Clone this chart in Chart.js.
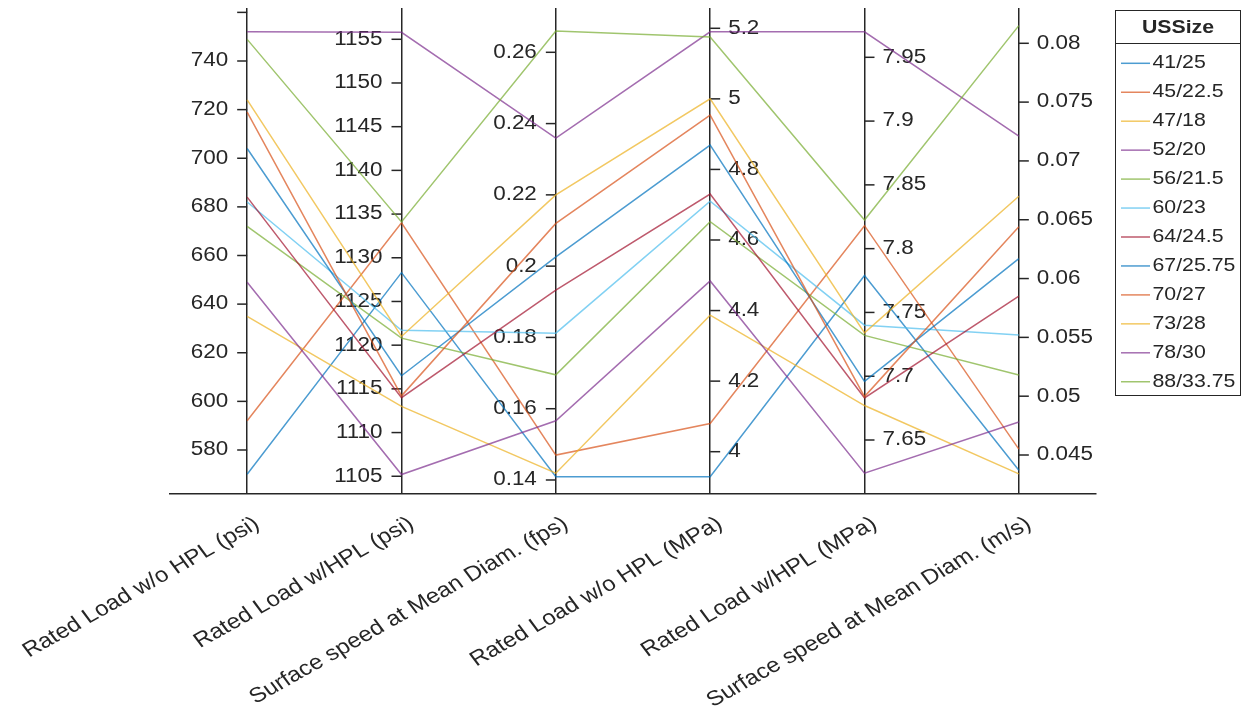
<!DOCTYPE html>
<html>
<head>
<meta charset="utf-8">
<script src="https://cdn.jsdelivr.net/npm/chart.js@4.4.1/dist/chart.umd.min.js"></script>
<style>
  html, body { margin: 0; padding: 0; background: #fff; }
  #wrap { width: 1248px; height: 719px; }
</style>
</head>
<body>
<div id="wrap"><canvas id="parallelChart"></canvas></div>
<script>
// coordinates (one vertical axis each)
const coordinates = [
    "Rated Load w/o HPL (psi)",
    "Rated Load w/HPL (psi)",
    "Surface speed at Mean Diam. (fps)",
    "Rated Load w/o HPL (MPa)",
    "Rated Load w/HPL (MPa)",
    "Surface speed at Mean Diam. (m/s)"
];

// groups (USSize)
const usSizes = ["41/25", "45/22.5", "47/18", "52/20", "56/21.5", "60/23",
                 "64/24.5", "67/25.75", "70/27", "73/28", "78/30", "88/33.75"];

// values per coordinate, same order as usSizes
const loadPsi    = [570, 592, 635, 649, 672, 682, 684, 704, 719, 724, 752, 748.9];
const loadHplPsi = [1128.3, 1134, 1113, 1105.2, 1120.8, 1121.7, 1114, 1116.5, 1114.2, 1121, 1155.8, 1134.1];
const speedFps   = [0.1409, 0.147, 0.1419, 0.1566, 0.1695, 0.1812, 0.1933, 0.2026, 0.212, 0.22, 0.2359, 0.266];
const loadMpa    = [3.929, 4.08, 4.387, 4.484, 4.652, 4.71, 4.73, 4.869, 4.954, 5.0, 5.19, 5.175];
const loadHplMpa = [7.779, 7.818, 7.677, 7.624, 7.732, 7.74, 7.683, 7.696, 7.684, 7.734, 7.970, 7.8225];
const speedMs    = [0.0437, 0.0455, 0.0434, 0.0478, 0.0518, 0.0552, 0.0585, 0.0617, 0.0644, 0.067, 0.0721, 0.0815];

// axis limits for each coordinate
const axisMin = [561.9, 1102.97, 0.13607, 3.8801, 7.60767, 0.041685];
const axisMax = [761.8, 1158.58, 0.27243, 5.2575, 7.98865, 0.0830];

// tick values and labels for each coordinate
const tickValues = [
    [580, 600, 620, 640, 660, 680, 700, 720, 740, 760],
    [1105, 1110, 1115, 1120, 1125, 1130, 1135, 1140, 1145, 1150, 1155],
    [0.14, 0.16, 0.18, 0.2, 0.22, 0.24, 0.26],
    [4, 4.2, 4.4, 4.6, 4.8, 5, 5.2],
    [7.65, 7.7, 7.75, 7.8, 7.85, 7.9, 7.95],
    [0.045, 0.05, 0.055, 0.06, 0.065, 0.07, 0.075, 0.08]
];
const tickLabels = [
    ["580", "600", "620", "640", "660", "680", "700", "720", "740", ""],
    ["1105", "1110", "1115", "1120", "1125", "1130", "1135", "1140", "1145", "1150", "1155"],
    ["0.14", "0.16", "0.18", "0.2", "0.22", "0.24", "0.26"],
    ["4", "4.2", "4.4", "4.6", "4.8", "5", "5.2"],
    ["7.65", "7.7", "7.75", "7.8", "7.85", "7.9", "7.95"],
    ["0.045", "0.05", "0.055", "0.06", "0.065", "0.07", "0.075", "0.08"]
];

const lineColors = [
    "rgba(0,114,189,0.7)", "rgba(217,83,25,0.7)", "rgba(237,177,32,0.7)",
    "rgba(126,47,142,0.7)", "rgba(119,172,48,0.7)", "rgba(77,190,238,0.7)",
    "rgba(162,20,47,0.7)", "rgba(0,114,189,0.7)", "rgba(217,83,25,0.7)",
    "rgba(237,177,32,0.7)", "rgba(126,47,142,0.7)", "rgba(119,172,48,0.7)"
];

const columns = [loadPsi, loadHplPsi, speedFps, loadMpa, loadHplMpa, speedMs];
const TEXT = "#262626";
const FONT = '"Liberation Sans", Arial, sans-serif';
const SX = 1.15;          // horizontal stretch of the text
const TICK_SIZE = 19.5;
const LABEL_SIZE = 21;
const LABEL_ANGLE = 33 * Math.PI / 180;

/**
 * Draw text stretched horizontally.
 */
function stretchedText(ctx, text, x, y, align) {
    ctx.save();
    ctx.translate(x, y);
    ctx.scale(SX, 1);
    ctx.textAlign = align;
    ctx.fillText(text, 0, 0);
    ctx.restore();
}

/**
 * Every coordinate gets its own scale; lines are drawn on a
 * shared 0..1 scale, so values are mapped to the axis range.
 */
function buildDatasets() {
    return usSizes.map((name, s) => ({
        label: name,
        data: columns.map((col, i) => (col[s] - axisMin[i]) / (axisMax[i] - axisMin[i])),
        borderColor: lineColors[s],
        backgroundColor: lineColors[s],
        borderWidth: 1.5,
        pointRadius: 0,
        tension: 0,
        fill: false,
        yAxisID: "yn",
        order: usSizes.length - s
    }));
}

function buildScales() {
    const scales = {
        x: {
            type: "category",
            offset: true,
            grid: { offset: false, color: TEXT, lineWidth: 1.5, drawTicks: false },
            border: { display: true, color: TEXT, width: 1.5 },
            ticks: { display: false },
            afterFit: scale => { scale.height = 225; }
        },
        yn: { type: "linear", display: false, min: 0, max: 1 }
    };
    coordinates.forEach((c, i) => {
        scales["y" + i] = { type: "linear", display: false, min: axisMin[i], max: axisMax[i] };
    });
    return scales;
}

const axesPlugin = {
    id: "parallelAxes",
    beforeDatasetsDraw(chart) {
        const ctx = chart.ctx;
        const x = chart.scales.x;
        ctx.save();
        ctx.strokeStyle = TEXT;
        ctx.fillStyle = TEXT;
        ctx.lineWidth = 1.5;
        ctx.font = TICK_SIZE + "px " + FONT;
        ctx.textBaseline = "middle";
        coordinates.forEach((c, i) => {
            const scale = chart.scales["y" + i];
            const ax = x.getPixelForValue(i);
            const right = i >= 3;
            tickValues[i].forEach((v, k) => {
                const py = scale.getPixelForValue(v);
                ctx.beginPath();
                ctx.moveTo(ax, py);
                ctx.lineTo(right ? ax + 10 : ax - 10, py);
                ctx.stroke();
                stretchedText(ctx, tickLabels[i][k], right ? ax + 18 : ax - 19, py, right ? "left" : "right");
            });
        });
        ctx.restore();
    },
    afterDraw(chart) {
        const ctx = chart.ctx;
        const x = chart.scales.x;
        const area = chart.chartArea;
        ctx.save();
        ctx.fillStyle = TEXT;

        // coordinate labels
        ctx.font = LABEL_SIZE + "px " + FONT;
        ctx.textAlign = "right";
        ctx.textBaseline = "middle";
        coordinates.forEach((c, i) => {
            const ax = x.getPixelForValue(i);
            ctx.save();
            ctx.translate(ax + 10, area.bottom + 28);
            ctx.scale(SX, 1);
            ctx.rotate(-LABEL_ANGLE);
            ctx.fillText(c, 0, 0);
            ctx.restore();
        });

        // legend
        const lx = 1115.5, ly = 10.5, lw = 125, lh = 385;
        ctx.strokeStyle = TEXT;
        ctx.lineWidth = 1;
        ctx.strokeRect(lx, ly, lw, lh);
        ctx.beginPath();
        ctx.moveTo(lx, 43.5);
        ctx.lineTo(lx + lw, 43.5);
        ctx.stroke();
        ctx.font = "bold 18.5px " + FONT;
        ctx.textBaseline = "middle";
        stretchedText(ctx, "USSize", lx + lw / 2, 27.5, "center");
        ctx.font = "18.5px " + FONT;
        chart.data.datasets.forEach((ds, s) => {
            const y = 63.3 + s * 28.95;
            ctx.strokeStyle = ds.borderColor;
            ctx.lineWidth = 1.5;
            ctx.beginPath();
            ctx.moveTo(1121, y);
            ctx.lineTo(1150, y);
            ctx.stroke();
            stretchedText(ctx, ds.label, 1152.5, y, "left");
        });
        ctx.restore();
    }
};

new Chart(document.getElementById("parallelChart"), {
    type: "line",
    data: { labels: coordinates, datasets: buildDatasets() },
    options: {
        responsive: true,
        maintainAspectRatio: false,
        animation: false,
        layout: { padding: { left: 170, right: 152, top: 8, bottom: 0 } },
        plugins: { legend: { display: false }, tooltip: { enabled: false } },
        scales: buildScales()
    },
    plugins: [axesPlugin]
});
</script>
</body>
</html>
